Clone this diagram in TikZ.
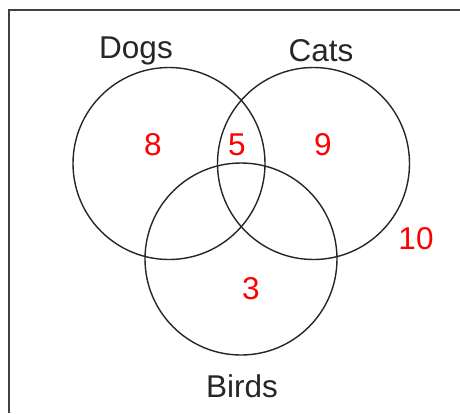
\documentclass[tikz,border=0pt]{standalone}
\usepackage{fontspec}
\setmainfont{Liberation Sans}
\begin{document}
\begin{tikzpicture}[x=1pt,y=-1pt,
  setcircle/.style={circle,draw=black!85,line width=1.4pt,minimum size=192pt,inner sep=0pt},
  setlabel/.style={font=\fontsize{31.5}{36}\selectfont,text=black!85,inner sep=0pt},
  countlabel/.style={font=\fontsize{31.5}{36}\selectfont,text=red,inner sep=0pt}]
\useasboundingbox (0,0) rectangle (460,413);
\fill[white] (0,0) rectangle (460,413);
\draw[line width=1.6pt,black!75] (9,413) -- (9,10) -- (460,10);
\node[setcircle] (dogs) at (169,163.5) {};
\node[setcircle] (cats) at (313.5,163.5) {};
\node[setcircle] (birds) at (241,259) {};
\node[setlabel] (ldogs) at (136,51) {Dogs};
\node[setlabel] (lcats) at (321,51) {Cats};
\node[setlabel] (lbirds) at (242,386) {Birds};
\node[countlabel] (n8) at (153,145) {8};
\node[countlabel] (n5) at (237,145) {5};
\node[countlabel] (n9) at (323,145) {9};
\node[countlabel] (n10) at (416,238.5) {10};
\node[countlabel] (n3) at (251,288.5) {3};
\end{tikzpicture}
\end{document}
